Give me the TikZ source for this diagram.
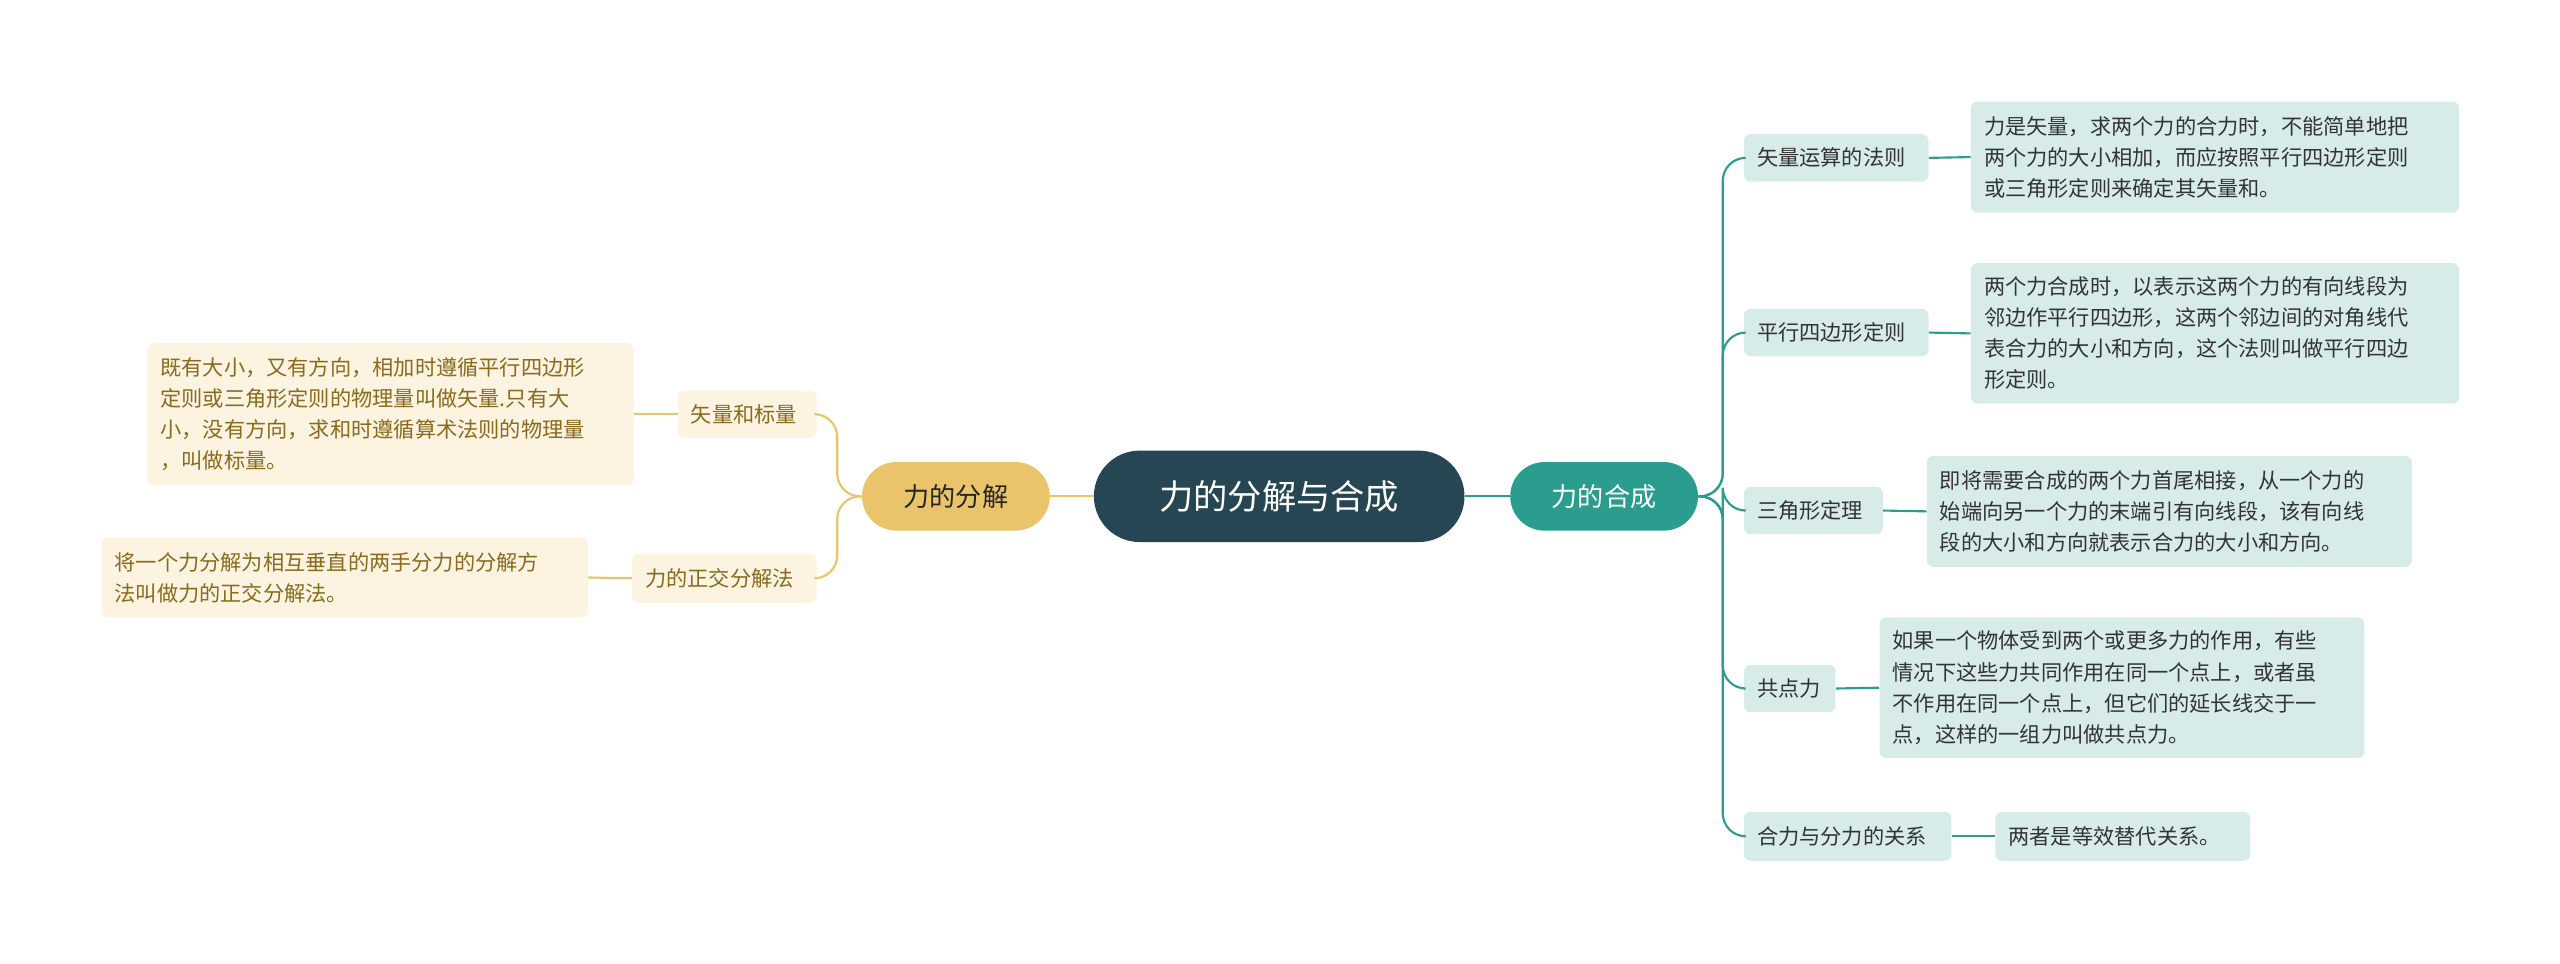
\documentclass[tikz,border=0pt]{standalone}
\usepackage{fontspec}
\setmainfont{Noto Sans CJK SC}
\definecolor{dark}{HTML}{264653}
\definecolor{gold}{HTML}{E9C46A}
\definecolor{teal}{HTML}{2A9D8F}
\definecolor{lteal}{HTML}{D7ECE9}
\definecolor{lgold}{HTML}{FCF3E0}
\definecolor{brown}{HTML}{8A6A1C}
\begin{document}
\begin{tikzpicture}[x=1pt,y=-1pt,
  box/.style={rounded corners=4pt,inner sep=0pt,anchor=north west,font=\fontsize{13}{19}\selectfont},
  rbox/.style={box,fill=lteal,text=black!80},
  lbox/.style={box,fill=lgold,text=brown},
  tl/.style={teal,line width=1.3pt},
  gl/.style={gold,line width=1.3pt}]
\useasboundingbox (0,0) rectangle (1568,590);
\newcommand{\bx}[7]{\node[#1,minimum width=#4-#2,minimum height=#5-#3,text width=#4-#2-16,align=#6] (#7) at (#2,#3) {};}
% main
\node[rounded corners=28pt,fill=dark,text=white,minimum width=227,minimum height=56,font=\fontsize{21}{24}\selectfont] (c) at (783.5,304) {力的分解与合成};
\node[rounded corners=21pt,fill=gold,text=black!85,minimum width=115,minimum height=42,font=\fontsize{16}{20}\selectfont] (L) at (585.5,304) {力的分解};
\node[rounded corners=21pt,fill=teal,text=white,minimum width=115,minimum height=42,font=\fontsize{16}{20}\selectfont] (R) at (982.5,304) {力的合成};
\draw[tl] (c.east) -- (R.west);
\draw[gl] (c.west) -- (L.east);
% generic nodes
\def\mk#1#2#3#4#5#6#7{\node[#1,minimum width=#4-#2,minimum height=#5-#3] (#7) at (#2,#3) {\begin{minipage}{\dimexpr(#4pt-#2pt-16pt)}#6\end{minipage}};}
\mk{rbox}{1068}{82}{1181}{111}{矢量运算的法则}{r1}
\mk{rbox}{1207}{62}{1506}{130}{力是矢量，求两个力的合力时，不能简单地把\\两个力的大小相加，而应按照平行四边形定则\\或三角形定则来确定其矢量和。}{s1}
\mk{rbox}{1068}{189}{1181}{218}{平行四边形定则}{r2}
\mk{rbox}{1207}{161}{1506}{247}{两个力合成时，以表示这两个力的有向线段为\\邻边作平行四边形，这两个邻边间的对角线代\\表合力的大小和方向，这个法则叫做平行四边\\形定则。}{s2}
\mk{rbox}{1068}{298}{1153}{327}{三角形定理}{r3}
\mk{rbox}{1180}{279}{1477}{347}{即将需要合成的两个力首尾相接，从一个力的\\始端向另一个力的末端引有向线段，该有向线\\段的大小和方向就表示合力的大小和方向。}{s3}
\mk{rbox}{1068}{407}{1124}{436}{共点力}{r4}
\mk{rbox}{1151}{378}{1448}{464}{如果一个物体受到两个或更多力的作用，有些\\情况下这些力共同作用在同一个点上，或者虽\\不作用在同一个点上，但它们的延长线交于一\\点，这样的一组力叫做共点力。}{s4}
\mk{rbox}{1068}{497}{1195}{527}{合力与分力的关系}{r5}
\mk{rbox}{1222}{497}{1378}{527}{两者是等效替代关系。}{s5}
\mk{lbox}{415}{239}{500}{268}{矢量和标量}{l1}
\mk{lbox}{90}{210}{388}{297}{既有大小，又有方向，相加时遵循平行四边形\\定则或三角形定则的物理量叫做矢量.只有大\\小，没有方向，求和时遵循算术法则的物理量\\，叫做标量。}{m1}
\mk{lbox}{387}{339}{500}{369}{力的正交分解法}{l2}
\mk{lbox}{62}{329}{360}{378}{将一个力分解为相互垂直的两手分力的分解方\\法叫做力的正交分解法。}{m2}
\foreach \i in {1,...,5}{
  \draw[tl,rounded corners=14pt] (R.east) -- ++(15,0) |- (r\i.west);
  \draw[tl] (r\i.east) -- (s\i.west);}
\foreach \i in {1,2}{
  \draw[gl,rounded corners=14pt] (L.west) -- ++(-15,0) |- (l\i.east);
  \draw[gl] (l\i.west) -- (m\i.east);}
\end{tikzpicture}
\end{document}
